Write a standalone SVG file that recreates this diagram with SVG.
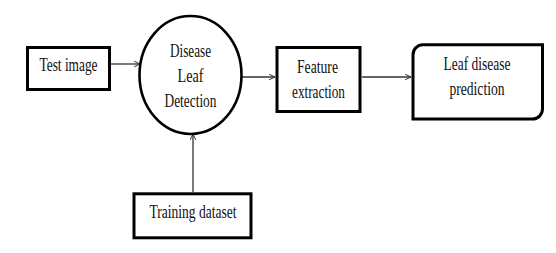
<svg xmlns="http://www.w3.org/2000/svg" width="556" height="253" viewBox="0 0 556 253">
  <defs>
    <style>
      .box { fill: #fff; stroke: #000; stroke-width: 3; }
      .ring { fill: #fff; stroke: #000; stroke-width: 2.6; }
      .lbl { font-family: "Liberation Serif", "Times New Roman", serif; font-size: 18.5px; fill: #111; text-anchor: middle; }
      .edge { fill: none; stroke: #333; stroke-width: 1.3; marker-end: url(#tip); }
    </style>
    <marker id="tip" viewBox="0 0 10 10" refX="9.5" refY="5" markerWidth="7" markerHeight="7" markerUnits="userSpaceOnUse" orient="auto">
      <path d="M1,1 L9.5,5 L1,9" fill="none" stroke="#333" stroke-width="1.4"/>
    </marker>
  </defs>

  <rect width="556" height="253" fill="#fff"/>

  <g id="connectors">
    <line class="edge" x1="111" y1="64" x2="140" y2="64"/>
    <line class="edge" x1="242" y1="77" x2="275" y2="77"/>
    <line class="edge" x1="362" y1="77" x2="411" y2="77"/>
    <line class="edge" x1="193" y1="192" x2="193" y2="134"/>
  </g>

  <g id="test-image">
    <rect class="box" x="27.5" y="47.5" width="82" height="42"/>
    <text class="lbl" x="68.5" y="70.5" textLength="58" lengthAdjust="spacingAndGlyphs">Test image</text>
  </g>

  <g id="disease-leaf-detection">
    <ellipse class="ring" cx="190.5" cy="75" rx="51" ry="59"/>
    <text class="lbl" x="190.5" y="57" textLength="41" lengthAdjust="spacingAndGlyphs">Disease</text>
    <text class="lbl" x="190.5" y="82" textLength="26" lengthAdjust="spacingAndGlyphs">Leaf</text>
    <text class="lbl" x="190.5" y="107" textLength="52" lengthAdjust="spacingAndGlyphs">Detection</text>
  </g>

  <g id="feature-extraction">
    <rect class="box" x="277" y="47.5" width="83" height="64"/>
    <text class="lbl" x="317.5" y="72.5" textLength="41" lengthAdjust="spacingAndGlyphs">Feature</text>
    <text class="lbl" x="318.5" y="97.5" textLength="53" lengthAdjust="spacingAndGlyphs">extraction</text>
  </g>

  <g id="leaf-disease-prediction">
    <path class="box" d="M423,44.7 H542.5 V109 A10,10 0 0 1 532.5,119 H413 V54.7 A10,10 0 0 1 423,44.7 Z"/>
    <text class="lbl" x="477" y="70" textLength="67" lengthAdjust="spacingAndGlyphs">Leaf disease</text>
    <text class="lbl" x="477" y="95" textLength="55" lengthAdjust="spacingAndGlyphs">prediction</text>
  </g>

  <g id="training-dataset">
    <rect class="box" x="134" y="193.8" width="117" height="44"/>
    <text class="lbl" x="193" y="218.3" textLength="87" lengthAdjust="spacingAndGlyphs">Training dataset</text>
  </g>
</svg>
